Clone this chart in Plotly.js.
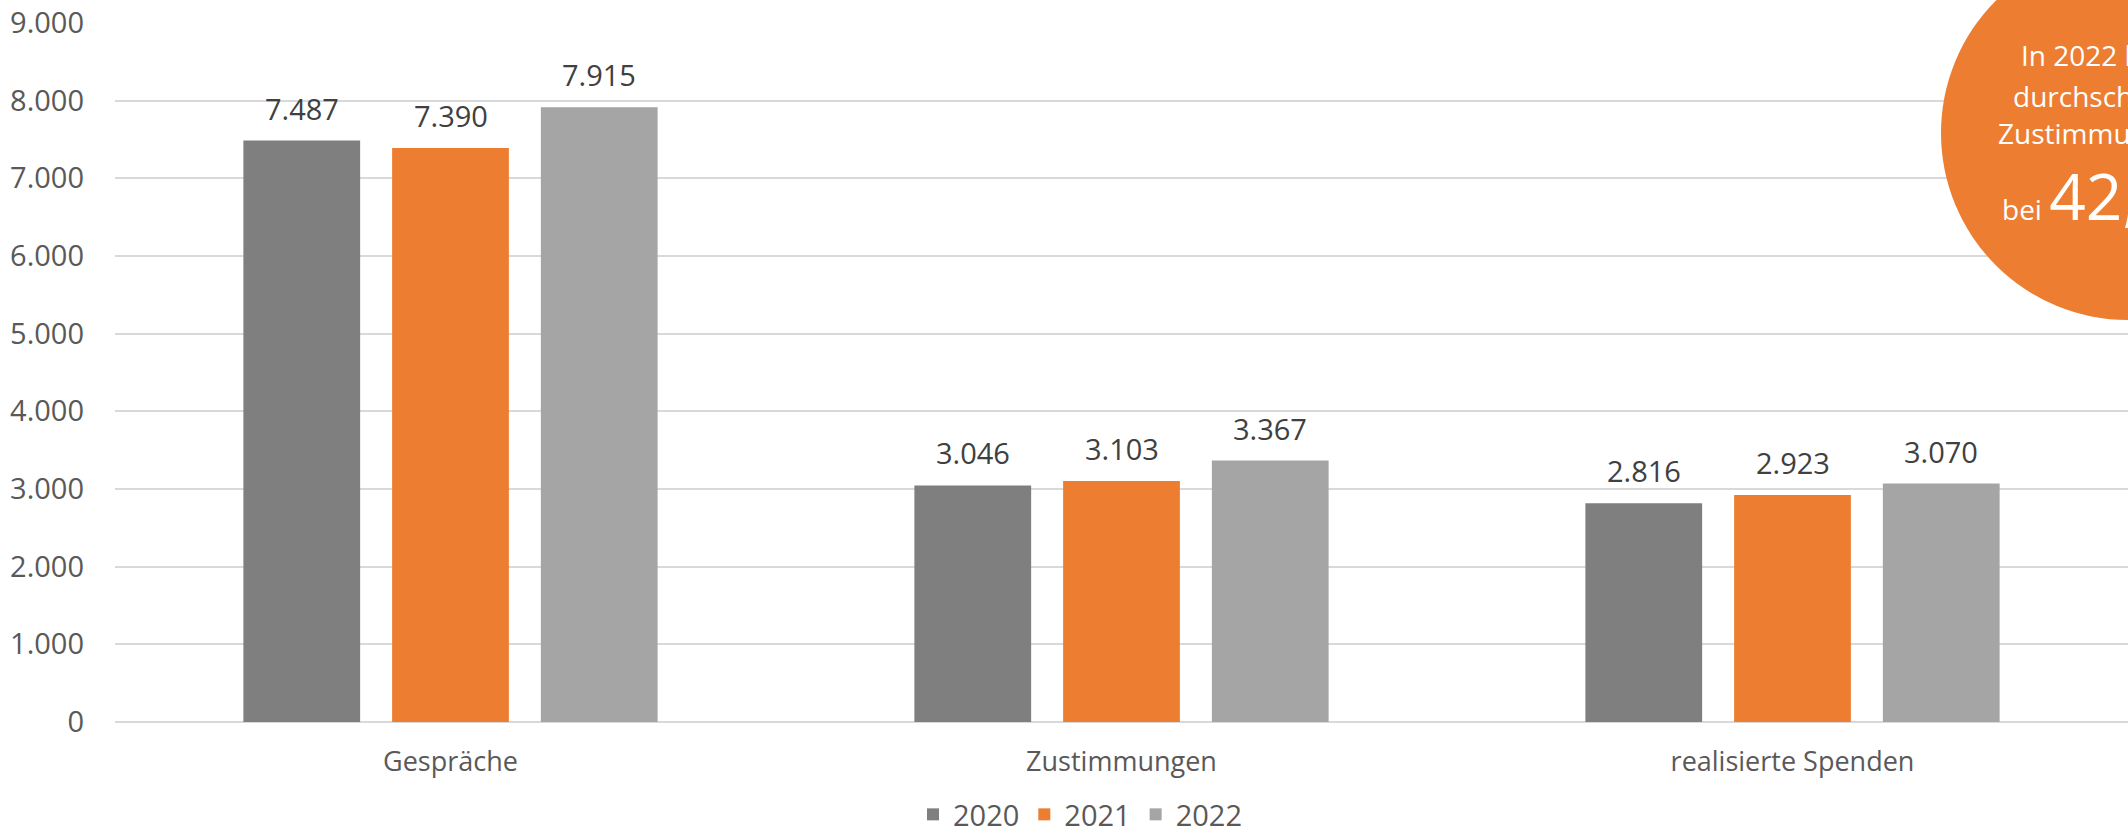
<!DOCTYPE html>
<html>
<head>
<meta charset="utf-8">
<script src="https://cdn.plot.ly/plotly-3.0.1.min.js"></script>
<style>html,body{margin:0;padding:0;overflow:hidden;background:#fff}</style>
</head>
<body>
<div id="chart" style="width:2128px;height:836px"></div>
<script>
const categories = ["Gespräche", "Zustimmungen", "realisierte Spenden"];
const years = ["2020", "2021", "2022"];
const values2020 = [7487, 3046, 2816];
const values2021 = [7390, 3103, 2923];
const values2022 = [7915, 3367, 3070];
const seriesColors = ["#7f7f7f", "#ed7d31", "#a5a5a5"];
const yTicks = [0, 1000, 2000, 3000, 4000, 5000, 6000, 7000, 8000, 9000];
const calloutLines = ["In 2022 lag die", "durchschnittliche", "Zustimmungsquote"];
const calloutPrefix = "bei";
const calloutValue = "42,5 %";

const FONT = "Open Sans, Noto Sans, sans-serif";
const allSeries = [values2020, values2021, values2022];

const traces = allSeries.map((vals, i) => ({
  type: "bar",
  name: years[i],
  x: categories,
  y: vals,
  marker: {color: seriesColors[i]},
  hoverinfo: "skip"
}));

const fmt = v => v.toLocaleString("de-DE");

// Plot geometry
const L = 115, R = 0, T = 23, B = 114, W = 2128, H = 836;
const pw = W - L - R, ph = H - T - B;
const catW = pw / categories.length;
const bargap = 0.335;
const slot = catW * (1 - bargap) / 3;

const annotations = [];
allSeries.forEach((vals, i) => {
  vals.forEach((v, j) => {
    annotations.push({
      x: categories[j], y: v, xref: "x", yref: "y",
      text: fmt(v), showarrow: false,
      xanchor: "center", yanchor: "bottom",
      xshift: (i - 1) * slot, yshift: 11,
      font: {family: FONT, size: 29, color: "#404040"}
    });
  });
});

// Callout circle (pixel geometry -> paper coords)
const px = x => (x - L) / pw;
const py = y => (H - B - y) / ph;
const cx = 2128, cy = 133, r = 187;
const shapes = [{
  type: "circle", xref: "paper", yref: "paper", layer: "above",
  x0: px(cx - r), x1: px(cx + r), y0: py(cy + r), y1: py(cy - r),
  fillcolor: "#ed7d31", line: {width: 0}
}];
const lineStarts = [2019, 2011, 1996];
const lineY = [55, 96, 133];
calloutLines.forEach((t, k) => {
  annotations.push({
    xref: "paper", yref: "paper", x: px(lineStarts[k]), y: py(lineY[k]),
    xanchor: "left", yanchor: "middle", showarrow: false, text: t,
    font: {family: FONT, size: 28, color: "#ffffff"}
  });
});
annotations.push({
  xref: "paper", yref: "paper", x: px(2000), y: py(196),
  xanchor: "left", yanchor: "middle", showarrow: false,
  text: calloutPrefix + " <span style='font-size:64px'>" + calloutValue + "</span>",
  font: {family: FONT, size: 28, color: "#ffffff"}
});

const layout = {
  width: W, height: H,
  margin: {l: L, r: R, t: T, b: B, pad: 0, autoexpand: false},
  paper_bgcolor: "#ffffff", plot_bgcolor: "#ffffff",
  separators: ",.",
  barmode: "group", bargap: bargap, bargroupgap: 0.215,
  font: {family: FONT, color: "#595959", size: 29},
  showlegend: true,
  legend: {
    orientation: "h", xref: "paper", yref: "paper",
    x: px(913), y: py(840), xanchor: "left", yanchor: "bottom",
    font: {family: FONT, size: 29, color: "#595959"},
    itemwidth: 30, traceorder: "normal"
  },
  xaxis: {
    type: "category", range: [-0.5, 2.5],
    showgrid: false, zeroline: false, showline: false,
    ticks: "", ticklabelstandoff: 21,
    tickfont: {family: FONT, size: 27, color: "#595959"}
  },
  yaxis: {
    range: [0, 9000], tickvals: yTicks, tickformat: ",d",
    showgrid: true, gridcolor: "#d9d9d9", gridwidth: 2,
    zeroline: true, zerolinecolor: "#d9d9d9", zerolinewidth: 2,
    showline: false, ticks: "", ticklabelstandoff: 30,
    tickfont: {family: FONT, size: 29, color: "#595959"}
  },
  shapes: shapes,
  annotations: annotations
};

Plotly.newPlot("chart", traces, layout, {displayModeBar: false, staticPlot: true});
</script>
</body>
</html>
